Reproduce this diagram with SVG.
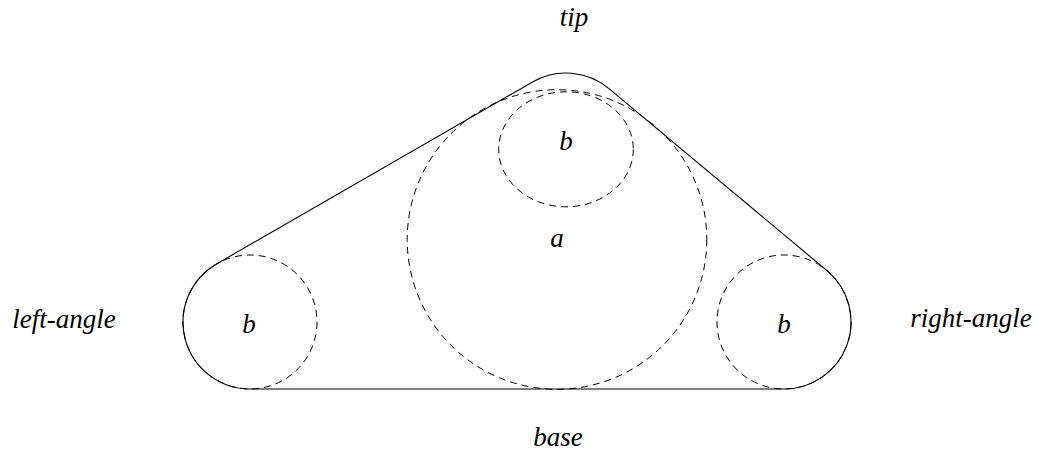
<svg xmlns="http://www.w3.org/2000/svg" width="1038" height="453" viewBox="0 0 1038 453">
  <style>
    .solid { fill: none; stroke: #000; stroke-width: 1.1; }
    .dash { fill: none; stroke: #000; stroke-width: 1; stroke-dasharray: 7 5; }
    .lbl { font-family: "Liberation Serif", "DejaVu Serif", serif; font-style: italic; font-size: 27px; fill: #000; text-anchor: middle; }
  </style>
  <rect width="1038" height="453" fill="#fff"/>
  <g id="outline">
    <path class="solid" d="M 250 389 A 67 67 0 0 1 216.56 263.94 L 532.56 81.94 A 67 67 0 0 1 608.94 88.57 L 826.94 270.57 A 67 67 0 0 1 784 389 Z"/>
  </g>
  <g id="circle-a">
    <circle class="dash" cx="557" cy="239.5" r="149.8"/>
    <text class="lbl" x="557" y="247">a</text>
  </g>
  <g id="circle-b-top">
    <ellipse class="dash" cx="566" cy="149.3" rx="67.3" ry="57.5"/>
    <text class="lbl" x="566" y="150">b</text>
  </g>
  <g id="circle-b-left">
    <circle class="dash" cx="250" cy="322" r="67"/>
    <text class="lbl" x="249" y="333">b</text>
  </g>
  <g id="circle-b-right">
    <circle class="dash" cx="784" cy="322" r="67"/>
    <text class="lbl" x="784" y="333">b</text>
  </g>
  <g id="label-tip"><text class="lbl" x="574" y="26">tip</text></g>
  <g id="label-base"><text class="lbl" x="558" y="446">base</text></g>
  <g id="label-left-angle"><text class="lbl" x="64" y="328">left-angle</text></g>
  <g id="label-right-angle"><text class="lbl" x="971" y="327">right-angle</text></g>
  <g id="connectors"></g>
</svg>
